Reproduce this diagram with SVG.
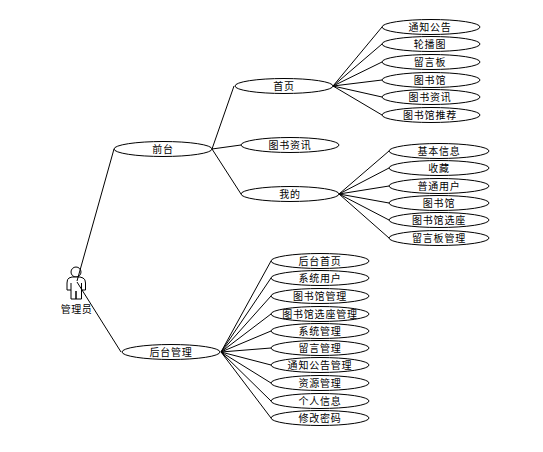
<svg xmlns="http://www.w3.org/2000/svg" width="543" height="452" viewBox="0 0 543 452">
<style>
ellipse{fill:#fff;stroke:#000;stroke-width:1}
text{font-family:"Noto Sans CJK SC","Liberation Sans",sans-serif;font-size:10px;text-anchor:middle;fill:#000;letter-spacing:.8px}
#connectors line{stroke:#000;stroke-width:1}
.a{fill:#fff;stroke:#000;stroke-width:1}
</style>
<rect width="543" height="452" fill="#fff"/>
<g id="actor">
<circle class="a" cx="76" cy="272" r="5"/>
<path class="a" d="M72 277L69 278Q67 279 67 283V290H71V299H76V291V299H81.5V290H85.5V283Q85.5 279 83 278L80 277Z"/>
<path class="a" fill="none" d="M71 283V290M81.5 283V290"/>
<text x="76.5" y="313" style="letter-spacing:.5px">管理员</text>
</g>
<g id="connectors">
<line x1="77" y1="281" x2="114" y2="149"/>
<line x1="77" y1="282" x2="121" y2="352"/>
<line x1="212" y1="149" x2="234" y2="86"/>
<line x1="212" y1="149" x2="241" y2="145"/>
<line x1="212" y1="149" x2="241" y2="194"/>
<line x1="333" y1="86" x2="382" y2="27"/>
<line x1="333" y1="86" x2="382" y2="44"/>
<line x1="333" y1="86" x2="382" y2="62"/>
<line x1="333" y1="86" x2="382" y2="80"/>
<line x1="333" y1="86" x2="382" y2="97"/>
<line x1="333" y1="86" x2="382" y2="115"/>
<line x1="339" y1="194" x2="389" y2="151"/>
<line x1="339" y1="194" x2="389" y2="168"/>
<line x1="339" y1="194" x2="389" y2="186"/>
<line x1="339" y1="194" x2="389" y2="203"/>
<line x1="339" y1="194" x2="389" y2="220"/>
<line x1="339" y1="194" x2="389" y2="238"/>
<line x1="221" y1="352" x2="271" y2="261"/>
<line x1="221" y1="352" x2="271" y2="278"/>
<line x1="221" y1="352" x2="271" y2="296"/>
<line x1="221" y1="352" x2="271" y2="314"/>
<line x1="221" y1="352" x2="271" y2="331"/>
<line x1="221" y1="352" x2="271" y2="348"/>
<line x1="221" y1="352" x2="271" y2="365"/>
<line x1="221" y1="352" x2="271" y2="383"/>
<line x1="221" y1="352" x2="271" y2="401"/>
<line x1="221" y1="352" x2="271" y2="418"/>
</g>
<g id="n-qiantai"><ellipse cx="163" cy="149" rx="49" ry="7.5"/><text x="163" y="153">前台</text></g>
<g id="n-houtai"><ellipse cx="171" cy="352" rx="49" ry="7.5"/><text x="171" y="356">后台管理</text></g>
<g id="n-shouye"><ellipse cx="284" cy="86" rx="49" ry="7.5"/><text x="284" y="90">首页</text></g>
<g id="n-zixun"><ellipse cx="290" cy="145" rx="49" ry="7.5"/><text x="290" y="149">图书资讯</text></g>
<g id="n-wode"><ellipse cx="290" cy="194" rx="49" ry="7.5"/><text x="290" y="198">我的</text></g>
<g id="n-a1"><ellipse cx="431" cy="27" rx="49" ry="7.5"/><text x="430" y="31">通知公告</text></g>
<g id="n-a2"><ellipse cx="431" cy="44" rx="49" ry="7.5"/><text x="430" y="48">轮播图</text></g>
<g id="n-a3"><ellipse cx="431" cy="62" rx="49" ry="7.5"/><text x="430" y="66">留言板</text></g>
<g id="n-a4"><ellipse cx="431" cy="80" rx="49" ry="7.5"/><text x="430" y="84">图书馆</text></g>
<g id="n-a5"><ellipse cx="431" cy="97" rx="49" ry="7.5"/><text x="430" y="101">图书资讯</text></g>
<g id="n-a6"><ellipse cx="431" cy="115" rx="49" ry="7.5"/><text x="430" y="119">图书馆推荐</text></g>
<g id="n-b1"><ellipse cx="439" cy="151" rx="50" ry="7.5"/><text x="439" y="155">基本信息</text></g>
<g id="n-b2"><ellipse cx="439" cy="168" rx="50" ry="7.5"/><text x="439" y="172">收藏</text></g>
<g id="n-b3"><ellipse cx="439" cy="186" rx="50" ry="7.5"/><text x="439" y="190">普通用户</text></g>
<g id="n-b4"><ellipse cx="439" cy="203" rx="50" ry="7.5"/><text x="439" y="207">图书馆</text></g>
<g id="n-b5"><ellipse cx="439" cy="220" rx="50" ry="7.5"/><text x="439" y="224">图书馆选座</text></g>
<g id="n-b6"><ellipse cx="439" cy="238" rx="50" ry="7.5"/><text x="439" y="242">留言板管理</text></g>
<g id="n-c1"><ellipse cx="320" cy="261" rx="49" ry="7.5"/><text x="320" y="265">后台首页</text></g>
<g id="n-c2"><ellipse cx="320" cy="278" rx="49" ry="7.5"/><text x="320" y="282">系统用户</text></g>
<g id="n-c3"><ellipse cx="320" cy="296" rx="49" ry="7.5"/><text x="320" y="300">图书馆管理</text></g>
<g id="n-c4"><ellipse cx="320" cy="314" rx="49" ry="7.5"/><text x="320" y="318">图书馆选座管理</text></g>
<g id="n-c5"><ellipse cx="320" cy="331" rx="49" ry="7.5"/><text x="320" y="335">系统管理</text></g>
<g id="n-c6"><ellipse cx="320" cy="348" rx="49" ry="7.5"/><text x="320" y="352">留言管理</text></g>
<g id="n-c7"><ellipse cx="320" cy="365" rx="49" ry="7.5"/><text x="320" y="369">通知公告管理</text></g>
<g id="n-c8"><ellipse cx="320" cy="383" rx="49" ry="7.5"/><text x="320" y="387">资源管理</text></g>
<g id="n-c9"><ellipse cx="320" cy="401" rx="49" ry="7.5"/><text x="320" y="405">个人信息</text></g>
<g id="n-c10"><ellipse cx="320" cy="418" rx="49" ry="7.5"/><text x="320" y="422">修改密码</text></g>
</svg>
